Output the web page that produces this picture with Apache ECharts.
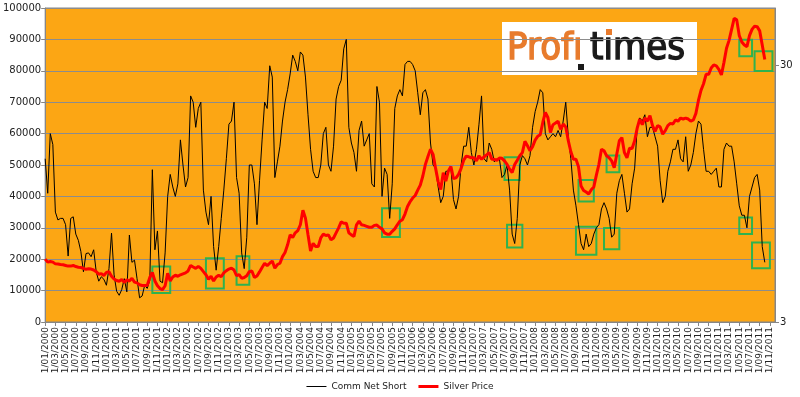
<!DOCTYPE html>
<html>
<head>
<meta charset="utf-8">
<title>Comm Net Short vs Silver Price</title>
<script src="https://cdn.jsdelivr.net/npm/echarts@6/dist/echarts.min.js"></script>
<style>
  html, body { margin: 0; padding: 0; background: #fff; }
  #chart-container { width: 800px; height: 397px; }
</style>
</head>
<body>
<div id="chart-container"></div>
<script>
const commNetShort = [
  52000, 41000, 60000, 56500, 35000, 32500, 33000, 33000, 31000, 21000,
  33000, 33500, 28000, 26000, 22400, 16000, 21800, 22000, 20800, 23000,
  16000, 13000, 14400, 13600, 11700, 17000, 28300, 15000, 9800, 8500,
  10300, 13800, 9600, 27700, 19000, 19700, 13800, 7700, 8300, 11700,
  10700, 13300, 48500, 23000, 29000, 13000, 12500, 22000, 40000, 47000,
  43000, 40000, 44000, 58000, 50000, 43000, 46000, 72000, 70000, 62000,
  68000, 70000, 42000, 35000, 31000, 40000, 24000, 16500, 24000, 33000,
  42000, 52000, 63000, 64000, 70000, 46000, 41000, 22000, 17000, 27000,
  50000, 50000, 44000, 31000, 45000, 58000, 70000, 68000, 81600, 78000,
  46000, 51000, 56000, 64000, 70000, 74000, 79000, 85000, 83000, 80000,
  86000, 85000, 78000, 66000, 55000, 48000, 46000, 46000, 50000, 60000,
  62000, 50000, 48000, 56000, 71000, 75000, 77000, 87000, 90000, 62000,
  57000, 54000, 48000, 61000, 64000, 56000, 58000, 60000, 44000, 43000,
  75000, 70000, 40000, 49000, 47000, 33000, 44000, 68000, 72000, 74000,
  72000, 82000, 83000, 83000, 82000, 80000, 73000, 66000, 73000, 74000,
  71000, 57000, 50000, 49000, 43000, 38000, 40000, 48000, 48000, 49000,
  39000, 36000, 40000, 50000, 56000, 56000, 62000, 54000, 50000, 55000,
  63000, 72000, 52000, 51000, 57000, 55000, 51000, 52000, 52000, 46000,
  47000, 50000, 42000, 28000, 25000, 33000, 50000, 53000, 52000, 50000,
  53000, 62000, 67000, 70000, 74000, 73000, 60000, 58000, 59000, 60000,
  59000, 61000, 59000, 64000, 70000, 59000, 52000, 42000, 37000, 31000,
  25000, 23000, 28000, 24000, 25000, 28000, 30000, 31000, 36000, 38000,
  36000, 33000, 27000, 28000, 41000, 45000, 47000, 41000, 35000, 36000,
  44000, 49000, 62000, 65000, 64000, 66000, 59000, 62000, 62000, 59000,
  56000, 45000, 38000, 40000, 48000, 51000, 55000, 55000, 58000, 52000,
  51000, 59000, 48000, 50000, 54000, 60000, 64000, 63000, 55000, 48000,
  48000, 47000, 48000, 49000, 43000, 43000, 55000, 57000, 56000, 56000,
  51000, 44000, 37000, 34000, 34000, 30000, 40000, 43000, 46000, 47000,
  42000, 24000, 19000
];

const silverPrice = [
  5.27, 5.13, 5.16, 5.13, 5.05, 5.04, 5.02, 5.01, 4.98, 4.95,
  4.95, 4.98, 4.93, 4.90, 4.89, 4.85, 4.81, 4.83, 4.82, 4.78,
  4.71, 4.60, 4.63, 4.55, 4.68, 4.71, 4.52, 4.41, 4.35, 4.32,
  4.39, 4.28, 4.38, 4.33, 4.44, 4.29, 4.26, 4.19, 4.16, 4.16,
  4.17, 4.47, 4.68, 4.33, 4.15, 4.05, 4.01, 4.15, 4.64, 4.33,
  4.49, 4.56, 4.52, 4.58, 4.62, 4.66, 4.74, 4.98, 4.91, 4.85,
  4.94, 4.85, 4.71, 4.58, 4.40, 4.52, 4.33, 4.49, 4.56, 4.50,
  4.66, 4.75, 4.82, 4.86, 4.78, 4.54, 4.59, 4.44, 4.47, 4.54,
  4.71, 4.74, 4.47, 4.53, 4.70, 4.89, 5.08, 4.97, 5.08, 5.18,
  4.86, 5.02, 5.08, 5.39, 5.59, 5.99, 6.55, 6.40, 6.67, 6.80,
  7.17, 8.16, 7.61, 6.55, 5.67, 6.07, 5.90, 5.90, 6.37, 6.59,
  6.51, 6.55, 6.26, 6.37, 6.67, 6.97, 7.36, 7.27, 7.27, 6.67,
  6.55, 6.46, 7.17, 7.40, 7.17, 7.13, 7.07, 7.01, 7.01, 7.13,
  7.15, 7.01, 6.91, 6.67, 6.59, 6.59, 6.76, 6.91, 7.17, 7.40,
  7.50, 7.89, 8.45, 8.81, 9.11, 9.32, 9.78, 10.23, 11.10, 12.32,
  13.22, 14.11, 13.48, 11.88, 10.55, 9.83, 11.42, 10.61, 11.61, 12.08,
  10.85, 10.91, 11.26, 11.88, 12.78, 13.26, 13.18, 13.07, 13.07, 12.71,
  13.30, 12.89, 13.18, 13.41, 13.68, 12.89, 12.89, 12.78, 13.04, 13.00,
  12.71, 12.32, 11.80, 11.45, 12.30, 12.78, 13.30, 13.68, 15.14, 14.55,
  13.91, 14.43, 15.31, 15.84, 16.06, 17.93, 19.62, 18.75, 16.38, 17.58,
  17.83, 18.13, 16.85, 17.68, 17.23, 15.22, 13.79, 12.89, 12.89, 12.05,
  10.14, 9.75, 9.61, 9.45, 9.81, 10.06, 11.19, 12.32, 14.11, 13.91,
  13.30, 13.07, 12.71, 11.94, 13.48, 15.22, 15.66, 13.68, 13.07, 14.23,
  14.19, 15.22, 17.04, 18.49, 17.58, 18.65, 18.13, 19.07, 17.43, 16.57,
  17.43, 17.23, 16.15, 16.66, 17.43, 17.78, 17.68, 18.34, 18.13, 18.65,
  18.49, 18.65, 18.49, 18.13, 18.34, 19.45, 21.84, 23.90, 25.36, 27.60,
  27.60, 29.20, 30.04, 29.78, 28.87, 27.44, 30.72, 34.88, 37.42, 41.30,
  45.59, 44.95, 39.04, 36.89, 35.87, 35.37, 39.04, 41.30, 42.49, 42.31,
  40.73, 35.87, 31.51
];

// green boxes: [first point, last point, low, high] in left-axis units
const boxes = [
  [42, 49, 9200, 17700], [63, 70, 10700, 20300], [75, 80, 11900, 20900],
  [132, 139, 27100, 36200], [180, 186, 45200, 52500], [181, 187, 23700, 31000],
  [209, 215, 38400, 45200], [208, 216, 21400, 30300], [220, 225, 47700, 53000],
  [219, 225, 23200, 29900], [272, 277, 84600, 89900], [278, 285, 79900, 86200],
  [272, 277, 28000, 33300], [277, 284, 17100, 25300]
];

const seriesNames = ['Comm Net Short', 'Silver Price'];

// dates every half month, 1/01/2000 .. 1/12/2011
const categories = [];
for (let y = 2000; y <= 2011; y++) {
  for (let m = 1; m <= 12; m++) {
    const mm = m < 10 ? '0' + m : '' + m;
    categories.push('1/' + mm + '/' + y);
    if (!(y === 2011 && m === 12)) categories.push('16/' + mm + '/' + y);
  }
}

const chartDom = document.getElementById('chart-container');
const myChart = echarts.init(chartDom);

const axisGray = '#868686';
const labelFont = 'DejaVu Sans';
const logoFont = '38px "DejaVu Sans Condensed", "DejaVu Sans"';
const logoOrange = '#e87b2c';

let chartOption = {
  animation: false,
  backgroundColor: '#ffffff',
  grid: {
    left: 45, right: 25, top: 8, bottom: 75,
    show: true, backgroundColor: '#fca614', borderColor: axisGray, borderWidth: 1
  },
  legend: {
    bottom: 1, left: 'center', itemGap: 12,
    itemWidth: 20, itemHeight: 8,
    textStyle: { fontFamily: labelFont, fontSize: 9, color: '#222' },
    // plain line keys, thin for the black series, thick for the red one
    data: [
      { name: seriesNames[0], icon: 'path://M0,0h20v1h-20z' },
      { name: seriesNames[1], icon: 'path://M0,0h20v3h-20z' }
    ]
  },
  xAxis: {
    type: 'category',
    data: categories,
    boundaryGap: false,
    axisLine: { lineStyle: { color: axisGray } },
    axisTick: { interval: 3, length: 4, lineStyle: { color: axisGray } },
    axisLabel: {
      interval: 3, rotate: 90, margin: 5,
      fontFamily: labelFont, fontSize: 9, color: '#222'
    },
    splitLine: { show: false }
  },
  yAxis: [
    {
      type: 'value', min: 0, max: 100000, interval: 10000,
      axisLine: { show: true, lineStyle: { color: axisGray } },
      axisTick: { show: true, length: 4, lineStyle: { color: axisGray } },
      axisLabel: {
        margin: 4, fontFamily: labelFont, fontSize: 10, color: '#222',
        formatter: v => String(v)
      },
      splitLine: { show: true, lineStyle: { color: '#8c8c8c', width: 1 } }
    },
    {
      // log scale; base 30 puts the only inner tick on 30
      type: 'log', logBase: 30, min: 3, max: 50, position: 'right',
      axisLine: { show: true, lineStyle: { color: axisGray } },
      axisTick: { show: true, length: 4, lineStyle: { color: axisGray } },
      axisLabel: {
        showMaxLabel: false, margin: 5,
        fontFamily: labelFont, fontSize: 10, color: '#222'
      },
      splitLine: { show: false },
      minorTick: { show: false }
    }
  ],
  series: [
    {
      name: seriesNames[0], type: 'line', yAxisIndex: 0,
      data: commNetShort, symbol: 'none',
      lineStyle: { color: '#000', width: 1 }, itemStyle: { color: '#000' },
      markArea: {
        silent: true,
        itemStyle: { color: 'rgba(0,0,0,0)', borderColor: '#2fb24f', borderWidth: 2 },
        data: boxes.map(b => [{ xAxis: b[0], yAxis: b[2] }, { xAxis: b[1], yAxis: b[3] }])
      }
    },
    {
      name: seriesNames[1], type: 'line', yAxisIndex: 1,
      data: silverPrice, symbol: 'none',
      lineStyle: { color: '#ff0000', width: 3 }, itemStyle: { color: '#ff0000' }
    }
  ],
  graphic: [
    {
      type: 'group', left: 502, top: 22,
      children: [
        { type: 'rect', shape: { x: 0, y: 0, width: 195, height: 53 }, style: { fill: '#fff' } },
        {
          type: 'text', x: 5, y: 8,
          style: { text: 'Prof\u0131', fill: logoOrange, stroke: logoOrange, lineWidth: 1.4, font: logoFont }
        },
        {
          type: 'text', x: 88, y: 8,
          style: { text: 't\u0131mes', fill: '#1a1a1a', stroke: '#1a1a1a', lineWidth: 1.4, font: logoFont }
        },
        // the logo's moved dots: black under the first i, orange over the second
        { type: 'rect', shape: { x: 76, y: 42, width: 6, height: 6 }, style: { fill: '#1a1a1a' } },
        { type: 'rect', shape: { x: 104, y: 7, width: 6, height: 6 }, style: { fill: logoOrange } }
      ]
    }
  ]
};

myChart.setOption(chartOption);

window.addEventListener('resize', () => {
  myChart.resize();
});
</script>
</body>
</html>
